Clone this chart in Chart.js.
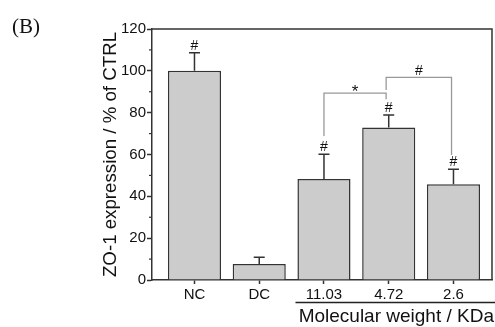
<!DOCTYPE html>
<html>
<head>
<meta charset="utf-8">
<script src="https://cdn.jsdelivr.net/npm/chart.js@4"></script>
<style>
  html, body { margin: 0; padding: 0; background: #fff; }
  #wrap { width: 495px; height: 327px; position: relative; }
</style>
</head>
<body>
<div id="wrap"><canvas id="c"></canvas></div>
<script>
// ---- data ----
const categories = ['NC', 'DC', '11.03', '4.72', '2.6'];
const values = [100, 7.7, 48.3, 72.9, 45.8];
const errors = [8.7, 3.2, 11.8, 6.0, 7.1];
const sigMarks = ['#', '', '#', '#', '#'];
const yTicks = [0, 20, 40, 60, 80, 100, 120];
// brackets
const bracketX1 = [2.0, 2.96];
const bracketX2 = [2.96, 3.97];
const bracketTop = [89.3, 96.9];
const bracketLeftEnd = [68.8, 90.8];
const bracketRightEnd = [86.4, 59.8];
const bracketLabels = ['*', '#'];
const panelLabel = '(B)';
const yTitle = 'ZO-1 expression / % of CTRL';
const groupTitle = 'Molecular weight / KDa';
const groupStart = 1.56;

const annot = {
  id: 'annot',
  afterDatasetsDraw(chart) {
    const { ctx, chartArea: a, scales: { x, y } } = chart;
    ctx.save();
    // frame top & right
    ctx.strokeStyle = '#333'; ctx.lineWidth = 1.5;
    ctx.beginPath();
    ctx.moveTo(a.left, a.top); ctx.lineTo(a.right, a.top); ctx.lineTo(a.right, a.bottom);
    ctx.stroke();
    // minor y ticks
    ctx.lineWidth = 1.2;
    for (let i = 0; i < yTicks.length - 1; i++) {
      const yy = y.getPixelForValue((yTicks[i] + yTicks[i + 1]) / 2);
      ctx.beginPath(); ctx.moveTo(a.left - 3, yy); ctx.lineTo(a.left, yy); ctx.stroke();
    }
    // error bars and marks
    ctx.strokeStyle = '#333'; ctx.lineWidth = 1.5;
    ctx.fillStyle = '#111';
    ctx.font = '14px "Liberation Sans"';
    ctx.textAlign = 'center'; ctx.textBaseline = 'alphabetic';
    values.forEach((v, i) => {
      const px = x.getPixelForValue(i);
      const y0 = y.getPixelForValue(v);
      const y1 = y.getPixelForValue(v + errors[i]);
      ctx.beginPath();
      ctx.moveTo(px, y0); ctx.lineTo(px, y1);
      ctx.moveTo(px - 5.5, y1); ctx.lineTo(px + 5.5, y1);
      ctx.stroke();
      if (sigMarks[i]) ctx.fillText(sigMarks[i], px, y1 - 3);
    });
    // brackets
    ctx.strokeStyle = '#999'; ctx.lineWidth = 1.3;
    bracketX1.forEach((bx, i) => {
      const x1 = x.getPixelForValue(bx), x2 = x.getPixelForValue(bracketX2[i]);
      const yt = y.getPixelForValue(bracketTop[i]);
      ctx.beginPath();
      ctx.moveTo(x1, y.getPixelForValue(bracketLeftEnd[i]));
      ctx.lineTo(x1, yt); ctx.lineTo(x2, yt);
      ctx.lineTo(x2, y.getPixelForValue(bracketRightEnd[i]));
      ctx.stroke();
      ctx.fillStyle = '#111';
      ctx.font = bracketLabels[i] === '*' ? '17px "Liberation Sans"' : '14px "Liberation Sans"';
      ctx.fillText(bracketLabels[i], (x1 + x2) / 2, bracketLabels[i] === '*' ? yt + 4 : yt - 2);
    });
    // group underline and title
    const gx = x.getPixelForValue(groupStart);
    ctx.strokeStyle = '#222'; ctx.lineWidth = 1.3;
    ctx.beginPath(); ctx.moveTo(gx, 302.5); ctx.lineTo(chart.width, 302.5); ctx.stroke();
    ctx.font = '19px "Liberation Sans"';
    ctx.textAlign = 'right';
    ctx.fillText(groupTitle, chart.width - 1, 322);
    // panel label
    ctx.font = '21px "Liberation Serif"';
    ctx.textAlign = 'left';
    ctx.fillText(panelLabel, 12, 33);
    ctx.restore();
  }
};

new Chart(document.getElementById('c'), {
  type: 'bar',
  data: {
    datasets: [{
      data: categories.map((c, i) => ({ x: i, y: values[i] })),
      backgroundColor: '#cccccc',
      borderColor: '#333',
      borderWidth: 1.5,
      barPercentage: 0.82,
      categoryPercentage: 1
    }]
  },
  options: {
    responsive: true,
    maintainAspectRatio: false,
    animation: false,
    devicePixelRatio: 1,
    layout: { padding: { left: 100, top: 29, right: 3, bottom: 0 } },
    plugins: { legend: { display: false }, tooltip: { enabled: false } },
    scales: {
      x: {
        type: 'linear',
        offset: false,
        min: -0.656,
        max: 4.595,
        afterBuildTicks: (s) => { s.ticks = categories.map((c, i) => ({ value: i })); },
        afterFit: (s) => { s.height = 47; },
        ticks: {
          callback: (v) => categories[v],
          color: '#111',
          font: { family: 'Liberation Sans', size: 15 },
          padding: 2,
          maxRotation: 0,
          autoSkip: false
        },
        grid: { display: true, offset: false, drawOnChartArea: false, drawTicks: true, tickLength: 4, color: '#333', tickWidth: 1.5 },
        border: { display: true, color: '#333', width: 1.5 }
      },
      y: {
        min: 0,
        max: 120,
        afterBuildTicks: (s) => { s.ticks = yTicks.map(v => ({ value: v })); },
        afterFit: (s) => { s.width = 52; },
        ticks: {
          color: '#111',
          font: { family: 'Liberation Sans', size: 15 },
          padding: 1
        },
        grid: { display: true, drawOnChartArea: false, drawTicks: true, tickLength: 5, color: '#333', tickWidth: 1.5 },
        border: { display: true, color: '#333', width: 1.5 },
        title: {
          display: true,
          text: yTitle,
          color: '#111',
          font: { family: 'Liberation Sans', size: 18.7 },
          padding: { top: 0, bottom: 0 }
        }
      }
    }
  },
  plugins: [annot]
});
</script>
</body>
</html>
